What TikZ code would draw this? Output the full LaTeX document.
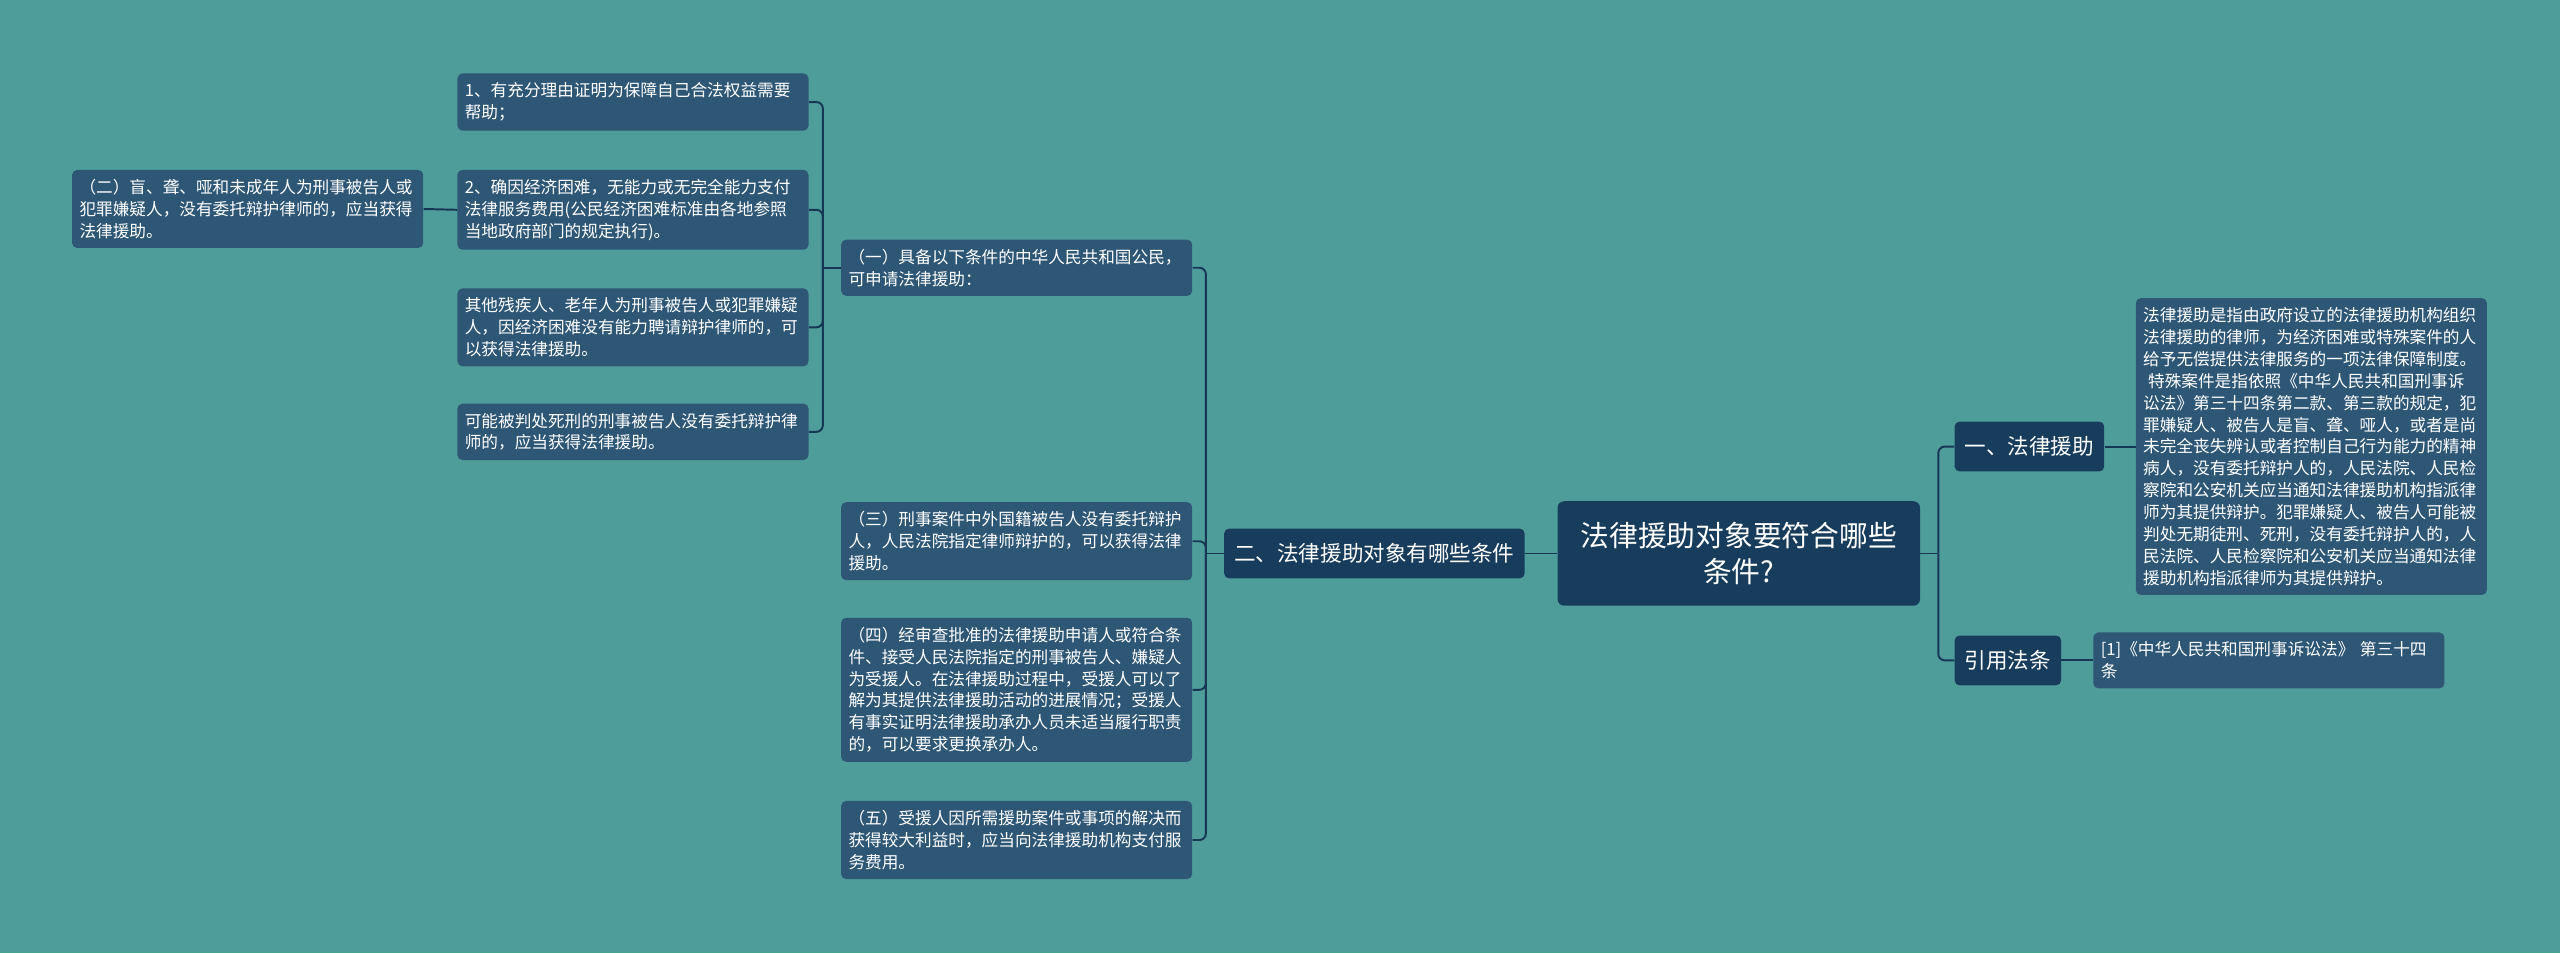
\documentclass[tikz,border=0pt]{standalone}
\usepackage{fontspec}
\setmainfont{Noto Sans CJK SC}
\usetikzlibrary{positioning}
\definecolor{mapteal}{RGB}{79,157,155}
\definecolor{mapnavy}{RGB}{24,61,92}
\definecolor{mapsteel}{RGB}{46,87,118}
\definecolor{mapline}{RGB}{22,56,84}

\tikzset{
  topicbox/.style={fill=mapnavy,text=white,rounded corners=4pt,align=center,
    minimum width=222pt,minimum height=64pt,inner sep=0pt,
    font=\fontsize{17.6}{22}\selectfont},
  branchbox/.style={fill=mapnavy,text=white,rounded corners=3pt,
    inner xsep=6.2pt,inner ysep=0pt,minimum height=30.5pt,
    font=\fontsize{13.2}{16}\selectfont},
  leafbox/.style={fill=mapsteel,text=white,rounded corners=3pt,
    text width=206pt,align=left,inner xsep=4.5pt,inner ysep=5.7pt,
    font=\fontsize{10.2}{13.4}\selectfont},
  link/.style={draw=mapline,line width=1.2pt,rounded corners=4pt}
}

\begin{document}
\begin{tikzpicture}[x=1pt,y=-1pt]
\fill[mapteal] (0,0) rectangle (1568,584);
\useasboundingbox (0,0) rectangle (1568,584);

\node[topicbox] (root) at (1065,339) {法律援助对象要符合哪些\\条件?};

\node[branchbox,anchor=west] (aid) at (1197,273.5) {一、法律援助};
\node[branchbox,anchor=west] (cite) at (1197,404.5) {引用法条};
\node[branchbox,anchor=east] (cond) at (934,339) {二、法律援助对象有哪些条件};

\node[leafbox,anchor=west] (aiddef) at (1308,273.5)
  {法律援助是指由政府设立的法律援助机构组织\\
   法律援助的律师，为经济困难或特殊案件的人\\
   给予无偿提供法律服务的一项法律保障制度。\\
   \hspace*{3pt}特殊案件是指依照《中华人民共和国刑事诉\\
   讼法》第三十四条第二款、第三款的规定，犯\\
   罪嫌疑人、被告人是盲、聋、哑人，或者是尚\\
   未完全丧失辨认或者控制自己行为能力的精神\\
   病人，没有委托辩护人的，人民法院、人民检\\
   察院和公安机关应当通知法律援助机构指派律\\
   师为其提供辩护。犯罪嫌疑人、被告人可能被\\
   判处无期徒刑、死刑，没有委托辩护人的，人\\
   民法院、人民检察院和公安机关应当通知法律\\
   援助机构指派律师为其提供辩护。};
\node[leafbox,anchor=west] (citesrc) at (1282,404.5)
  {[1]《中华人民共和国刑事诉讼法》 第三十四\\条};

\node[leafbox,anchor=west] (c1) at (515,164)
  {（一）具备以下条件的中华人民共和国公民，\\可申请法律援助：};
\node[leafbox,anchor=west] (c3) at (515,331.5)
  {（三）刑事案件中外国籍被告人没有委托辩护\\
   人，人民法院指定律师辩护的，可以获得法律\\
   援助。};
\node[leafbox,anchor=west] (c4) at (515,422.5)
  {（四）经审查批准的法律援助申请人或符合条\\
   件、接受人民法院指定的刑事被告人、嫌疑人\\
   为受援人。在法律援助过程中，受援人可以了\\
   解为其提供法律援助活动的进展情况；受援人\\
   有事实证明法律援助承办人员未适当履行职责\\
   的，可以要求更换承办人。};
\node[leafbox,anchor=west] (c5) at (515,514.5)
  {（五）受援人因所需援助案件或事项的解决而\\
   获得较大利益时，应当向法律援助机构支付服\\
   务费用。};

\node[leafbox,anchor=west] (a1) at (280,62.5)
  {1、有充分理由证明为保障自己合法权益需要\\帮助；};
\node[leafbox,anchor=west] (a2) at (280,128.5)
  {2、确因经济困难，无能力或无完全能力支付\\
   法律服务费用(公民经济困难标准由各地参照\\
   当地政府部门的规定执行)。};
\node[leafbox,anchor=west] (a3) at (280,200.5)
  {其他残疾人、老年人为刑事被告人或犯罪嫌疑\\
   人，因经济困难没有能力聘请辩护律师的，可\\
   以获得法律援助。};
\node[leafbox,anchor=west] (a4) at (280,264.5)
  {可能被判处死刑的刑事被告人没有委托辩护律\\师的，应当获得法律援助。};

\node[leafbox,anchor=west] (b2) at (44,128)
  {（二）盲、聋、哑和未成年人为刑事被告人或\\
   犯罪嫌疑人，没有委托辩护律师的，应当获得\\
   法律援助。};

\coordinate[right=11pt of root.east] (rjoin);
\draw[link] (root.east) -- (rjoin);
\draw[link] (rjoin) |- (aid.west);
\draw[link] (rjoin) |- (cite.west);
\draw[link] (aid.east) -- (aiddef.west);
\draw[link] (cite.east) -- (citesrc.west);

\draw[link] (root.west) -- (cond.east);
\coordinate[left=11pt of cond.west] (mjoin);
\draw[link] (cond.west) -- (mjoin);
\foreach \n in {c1,c3,c4,c5} \draw[link] (mjoin) |- (\n.east);

\coordinate[left=11pt of c1.west] (ljoin);
\draw[link] (c1.west) -- (ljoin);
\foreach \n in {a1,a2,a3,a4} \draw[link] (ljoin) |- (\n.east);
\draw[link] (a2.west) -- (b2.east);
\end{tikzpicture}
\end{document}
